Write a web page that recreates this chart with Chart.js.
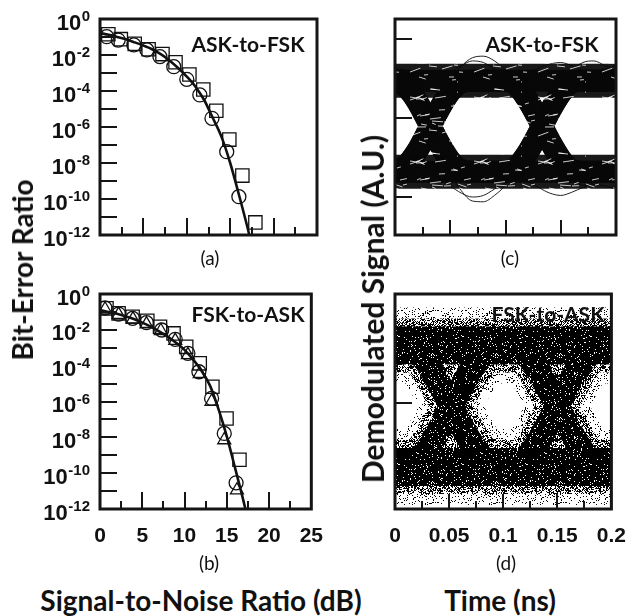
<!DOCTYPE html>
<html><head><meta charset="utf-8">
<script src="https://cdn.jsdelivr.net/npm/chart.js@4.4.1/dist/chart.umd.min.js"></script>
<style>
html,body{margin:0;padding:0;background:#fff}
#wrap{position:relative;width:633px;height:616px;overflow:hidden;background:#fff}
canvas{position:absolute}
.t{position:absolute;white-space:nowrap;color:#111;line-height:1;transform:translate(-50%,-50%)}
.ttl{font:700 28px Lato}
.lab{font:700 21px Lato}
.pl{font:400 19px Lato}
.rot{transform:translate(-50%,-50%) rotate(-90deg)}
</style></head><body><div id="wrap">
<canvas id="ca" width="330" height="250" style="left:0;top:0"></canvas>
<canvas id="cb" width="330" height="280" style="left:0;top:270px"></canvas>
<canvas id="cc" width="303" height="250" style="left:330px;top:0"></canvas>
<canvas id="cd" width="303" height="280" style="left:330px;top:270px"></canvas>
<div class="t ttl rot" style="left:22px;top:270px">Bit-Error Ratio</div>
<div class="t ttl rot" style="left:372px;top:309px;font-size:30px">Demodulated Signal (A.U.)</div>
<div class="t ttl" style="left:201px;top:600px">Signal-to-Noise Ratio (dB)</div>
<div class="t ttl" style="left:500px;top:600px">Time (ns)</div>
<div class="t pl" style="left:210px;top:257px">(a)</div>
<div class="t pl" style="left:209px;top:562px">(b)</div>
<div class="t pl" style="left:510px;top:257px">(c)</div>
<div class="t pl" style="left:506px;top:562px">(d)</div>
<div class="t lab" style="left:248px;top:43px">ASK-to-FSK</div>
<div class="t lab" style="left:248px;top:313px">FSK-to-ASK</div>
<div class="t lab" style="left:542px;top:43px">ASK-to-FSK</div>
<div class="t lab" style="left:548px;top:313px">FSK-to-ASK</div>
</div>
<script>
// ---------- BER panels (log10 of bit-error ratio) ----------
const fitSnrA = [0,1,2,3,4,5,6,7,8,9,10,11,12,13,14,15,16,17,17.3];
const fitExpA = [-0.78,-0.88,-1.0,-1.13,-1.3,-1.48,-1.68,-1.95,-2.3,-2.72,-3.2,-3.76,-4.5,-5.5,-6.55,-8.0,-9.75,-11.6,-12.2];
const sqSnrA  = [0.96,2.4,4.0,5.6,7.2,8.7,10.3,11.9,13.4,14.9,16.4,17.9];
const sqExpA  = [-0.85,-1.12,-1.38,-1.68,-1.95,-2.4,-3.08,-3.92,-5.1,-6.7,-8.7,-11.3];
const ciSnrA  = [0.77,2.1,3.9,5.4,6.9,8.5,10.0,11.5,12.9,14.6,16.0];
const ciExpA  = [-0.98,-1.17,-1.44,-1.72,-2.09,-2.65,-3.35,-4.22,-5.52,-7.37,-9.87];

const fitSnrB = [0,1,2,3,4,5,6,7,8,9,10,11,12,13,14,15,16,17,17.3];
const fitExpB = [-0.9,-1.0,-1.1,-1.24,-1.4,-1.6,-1.82,-2.08,-2.38,-2.72,-3.12,-3.65,-4.28,-5.1,-6.4,-7.95,-9.75,-11.6,-12.2];
const sqSnrB  = [0.77,2.2,3.86,5.6,7.1,8.7,10.2,11.8,13.3,14.97,16.5];
const sqExpB  = [-0.8,-1.08,-1.27,-1.49,-1.83,-2.2,-2.95,-3.87,-5.18,-6.95,-9.25];
const ciSnrB  = [0.58,2.2,3.86,5.5,7.3,8.9,10.4,11.7,13.2,14.7,16.1];
const ciExpB  = [-0.78,-1.12,-1.36,-1.6,-2.01,-2.53,-3.31,-4.34,-5.83,-7.78,-10.54];
const trSnrB  = [0.6,2.2,3.9,5.5,7.2,8.9,10.4,11.8,13.2,14.7,16.2];
const trExpB  = [-0.85,-1.15,-1.4,-1.68,-2.05,-2.6,-3.4,-4.45,-6.0,-8.15,-10.95];

const berTickExps   = [0,-2,-4,-6,-8,-10,-12];
const berTickBase   = '10';
const berTickSup    = ['0','-2','-4','-6','-8','-10','-12'];
const berMarkExps   = [-1,-2,-3,-4,-5,-6,-7,-8,-9,-10,-11];
const snrTicks      = [0,5,10,15,20,25];
const snrMajor      = [5,10,15,20];
const snrMinor      = [2.5,7.5,12.5,17.5,22.5];

// ---------- Eye diagrams ----------
const tEye = [0,0.01,0.02,0.03,0.04,0.05,0.06,0.07,0.08,0.09,0.1,0.11,0.12,0.13,0.14,0.15,0.16,0.17,0.18,0.19,0.2];
// (c) ASK-to-FSK traces (bit patterns)
const c000 = [-0.68,-0.68,-0.68,-0.68,-0.68,-0.68,-0.68,-0.68,-0.68,-0.68,-0.68,-0.68,-0.68,-0.68,-0.68,-0.68,-0.68,-0.68,-0.68,-0.68,-0.68];
const c001 = [-0.68,-0.68,-0.68,-0.68,-0.68,-0.68,-0.68,-0.68,-0.68,-0.68,-0.68,-0.62,-0.44,-0.19,0.08,0.31,0.45,0.47,0.47,0.47,0.47];
const c010 = [-0.68,-0.6,-0.42,-0.16,0.11,0.33,0.45,0.47,0.47,0.47,0.47,0.41,0.23,-0.02,-0.29,-0.52,-0.66,-0.68,-0.68,-0.68,-0.68];
const c011 = [-0.68,-0.6,-0.42,-0.16,0.11,0.33,0.45,0.47,0.47,0.47,0.47,0.47,0.47,0.47,0.47,0.47,0.47,0.47,0.47,0.47,0.47];
const c100 = [0.47,0.39,0.21,-0.05,-0.32,-0.54,-0.66,-0.68,-0.68,-0.68,-0.68,-0.68,-0.68,-0.68,-0.68,-0.68,-0.68,-0.68,-0.68,-0.68,-0.68];
const c101 = [0.47,0.39,0.21,-0.05,-0.32,-0.54,-0.66,-0.68,-0.68,-0.68,-0.68,-0.62,-0.44,-0.19,0.08,0.31,0.45,0.47,0.47,0.47,0.47];
const c110 = [0.47,0.47,0.47,0.47,0.47,0.47,0.47,0.47,0.47,0.47,0.47,0.41,0.23,-0.02,-0.29,-0.52,-0.66,-0.68,-0.68,-0.68,-0.68];
const c111 = [0.47,0.47,0.47,0.47,0.47,0.47,0.47,0.47,0.47,0.47,0.47,0.47,0.47,0.47,0.47,0.47,0.47,0.47,0.47,0.47,0.47];
const cThinA = [-0.75,-0.68,-0.5,-0.2,0.15,0.45,0.65,0.76,0.78,0.72,0.6,0.45,0.25,0.0,-0.3,-0.55,-0.75,-0.85,-0.82,-0.74,-0.7];
const cThinB = [0.6,0.5,0.3,0.0,-0.35,-0.7,-0.92,-1.05,-1.06,-0.98,-0.85,-0.65,-0.42,-0.15,0.15,0.42,0.6,0.7,0.72,0.66,0.6];
const cThinC = [0.62,0.6,0.52,0.46,0.5,0.58,0.66,0.72,0.7,0.62,0.55,0.52,0.56,0.63,0.68,0.7,0.66,0.6,0.58,0.62,0.66];
const cThinD = [-0.85,-0.82,-0.75,-0.7,-0.76,-0.86,-0.95,-1.0,-0.98,-0.9,-0.82,-0.78,-0.8,-0.88,-0.95,-0.98,-0.94,-0.88,-0.84,-0.86,-0.9];
const cThinE = [0.55,0.45,0.25,-0.02,-0.28,-0.48,-0.6,-0.64,-0.6,-0.56,-0.55,-0.5,-0.36,-0.12,0.14,0.36,0.5,0.56,0.58,0.55,0.52];
const cThinF = [-0.58,-0.52,-0.36,-0.1,0.16,0.36,0.42,0.4,0.37,0.38,0.4,0.36,0.2,-0.05,-0.32,-0.55,-0.7,-0.76,-0.74,-0.7,-0.66];
// (d) FSK-to-ASK traces (bit patterns)
const d000 = [-0.81,-0.81,-0.81,-0.81,-0.81,-0.81,-0.81,-0.81,-0.81,-0.81,-0.81,-0.81,-0.81,-0.81,-0.81,-0.81,-0.81,-0.81,-0.81,-0.81,-0.81];
const d001 = [-0.81,-0.81,-0.81,-0.81,-0.81,-0.81,-0.81,-0.81,-0.81,-0.81,-0.81,-0.8,-0.71,-0.54,-0.3,-0.04,0.22,0.46,0.63,0.72,0.73];
const d010 = [-0.81,-0.8,-0.73,-0.58,-0.35,-0.09,0.17,0.41,0.6,0.71,0.73,0.72,0.63,0.46,0.22,-0.04,-0.3,-0.54,-0.71,-0.8,-0.81];
const d011 = [-0.81,-0.8,-0.73,-0.58,-0.35,-0.09,0.17,0.41,0.6,0.71,0.73,0.73,0.73,0.73,0.73,0.73,0.73,0.73,0.73,0.73,0.73];
const d100 = [0.73,0.72,0.65,0.5,0.27,0.01,-0.25,-0.49,-0.68,-0.79,-0.81,-0.81,-0.81,-0.81,-0.81,-0.81,-0.81,-0.81,-0.81,-0.81,-0.81];
const d101 = [0.73,0.72,0.65,0.5,0.27,0.01,-0.25,-0.49,-0.68,-0.79,-0.81,-0.8,-0.71,-0.54,-0.3,-0.04,0.22,0.46,0.63,0.72,0.73];
const d110 = [0.73,0.73,0.73,0.73,0.73,0.73,0.73,0.73,0.73,0.73,0.73,0.72,0.63,0.46,0.22,-0.04,-0.3,-0.54,-0.71,-0.8,-0.81];
const d111 = [0.73,0.73,0.73,0.73,0.73,0.73,0.73,0.73,0.73,0.73,0.73,0.73,0.73,0.73,0.73,0.73,0.73,0.73,0.73,0.73,0.73];

const timeTicks      = [0,0.05,0.1,0.15,0.2];
const timeTickLabels = ['0','0.05','0.1','0.15','0.2'];
const timeMajor      = [0.05,0.1,0.15];
const timeMinor      = [0.025,0.075,0.125,0.175];
const sigMarksC      = [-1,0,1];
const sigMarksD      = [0];

// ---------- plugin: frame + inward tick marks + power-of-ten labels ----------
const frameTicks = {
  id:'frameTicks',
  afterDatasetsDraw(chart, args, o){
    const {ctx, chartArea:a, scales:{x,y}} = chart;
    ctx.save();
    ctx.strokeStyle='#151515'; ctx.lineWidth=2; ctx.lineCap='butt';
    ctx.beginPath();
    (o.yMarks||[]).forEach(v=>{const py=Math.round(y.getPixelForValue(v)); ctx.moveTo(a.left,py); ctx.lineTo(a.left+o.yLen,py);});
    (o.xMajor||[]).forEach(v=>{const px=Math.round(x.getPixelForValue(v)); ctx.moveTo(px,a.bottom); ctx.lineTo(px,a.bottom-o.majLen);});
    (o.xMinor||[]).forEach(v=>{const px=Math.round(x.getPixelForValue(v)); ctx.moveTo(px,a.bottom); ctx.lineTo(px,a.bottom-o.minLen);});
    ctx.stroke();
    ctx.lineWidth=3;
    ctx.strokeRect(a.left,a.top,a.right-a.left,a.bottom-a.top);
    if (o.powLabels) {
      ctx.fillStyle='#111'; ctx.textBaseline='alphabetic'; ctx.textAlign='right';
      const xr = a.left - 10;
      berTickExps.forEach((e,i)=>{
        const py = y.getPixelForValue(Math.pow(10,e));
        ctx.font = 'bold 15px "Liberation Sans"';
        const sup = berTickSup[i];
        const w = ctx.measureText(sup).width;
        ctx.fillText(sup, xr, py + 2);
        ctx.font = 'bold 22px "Liberation Sans"';
        ctx.fillText(berTickBase, xr - w - 0.5, py + 10.5);
      });
    }
    ctx.restore();
  }
};
Chart.register(frameTicks);

const pts = (xs, es) => xs.map((x,i)=>({x, y:Math.pow(10, es[i])}));
const fitDs = (xs, es) => ({data:pts(xs,es), borderColor:'#111', borderWidth:2.6, pointRadius:0, cubicInterpolationMode:'monotone', fill:false, order:0});
const mkDs = (xs, es, style, r) => ({data:pts(xs,es), showLine:false, pointStyle:style, pointRadius:r, pointBorderWidth:1.3, pointBorderColor:'#111', pointBackgroundColor:'rgba(0,0,0,0)', borderColor:'#111', backgroundColor:'rgba(0,0,0,0)', order:1});

const tickFont = {family:'Liberation Sans', weight:'bold', size:21};

function berOptions(showX, padTop){
  return {
    responsive:false, animation:false, events:[], devicePixelRatio:1,
    layout:{padding:{top:padTop, right:13, bottom: showX?0:15, left:0}},
    plugins:{legend:{display:false}, tooltip:{enabled:false},
      frameTicks:{powLabels:true, yMarks:berMarkExps.map(e=>Math.pow(10,e)), yLen:17, xMajor:snrMajor, xMinor:snrMinor, majLen:17, minLen:8}},
    scales:{
      x:{type:'linear', min:0, max:25, display:showX, grid:{display:false}, border:{display:false},
         afterBuildTicks:s=>{s.ticks=snrTicks.map(v=>({value:v}));},
         afterFit:s=>{s.height = showX ? 41 : 0;},
         ticks:{padding:7, color:'#111', font:tickFont, autoSkip:false, maxRotation:0, callback:(v)=>String(v)}},
      y:{type:'logarithmic', min:1e-12, max:1, grid:{display:false}, border:{display:false},
         afterBuildTicks:s=>{s.ticks=berTickExps.map(e=>({value:Math.pow(10,e)}));},
         afterFit:s=>{s.width=100;},
         ticks:{display:false}}
    }
  };
}

new Chart(document.getElementById('ca'), {
  type:'line',
  data:{datasets:[fitDs(fitSnrA,fitExpA), mkDs(sqSnrA,sqExpA,'rect',9.4), mkDs(ciSnrA,ciExpA,'circle',7)]},
  options:berOptions(false,19)
});
new Chart(document.getElementById('cb'), {
  type:'line',
  data:{datasets:[fitDs(fitSnrB,fitExpB), mkDs(sqSnrB,sqExpB,'rect',9.4), mkDs(ciSnrB,ciExpB,'circle',7), mkDs(trSnrB,trExpB,'triangle',7.5)]},
  options:berOptions(true,24)
});

// ---------- eye diagrams ----------
function eyeDs(vals, width, color){
  return {data:tEye.map((t,i)=>({x:t,y:vals[i]})), borderColor:color, borderWidth:width, pointRadius:0,
          cubicInterpolationMode:'monotone', fill:false, clip:0, borderCapStyle:'butt', borderJoinStyle:'round'};
}
function hash(a,b,s){
  let h=Math.imul(a+s*131,374761393)^Math.imul(b+s*71,668265263);
  h=Math.imul(h^(h>>>13),1274126177); return (h^(h>>>16))>>>0;
}
function stipple(density, seed){
  const n=64, c=document.createElement('canvas'); c.width=c.height=n;
  const g=c.getContext('2d'); const img=g.createImageData(n,n);
  for(let yy=0;yy<n;yy++)for(let xx=0;xx<n;xx++){
    if((hash(xx,yy,seed)%1000)/1000<density){img.data[(yy*n+xx)*4+3]=255;}
  }
  g.putImageData(img,0,0);
  return g.createPattern(c,'repeat');
}
// dense mesh texture: near-black with short light streaks (style only)
function mesh(seed, count){
  const n=64, c=document.createElement('canvas'); c.width=c.height=n;
  const g=c.getContext('2d');
  g.fillStyle='rgba(8,8,8,0.93)'; g.fillRect(0,0,n,n);
  g.strokeStyle='rgba(255,255,255,0.85)'; g.lineWidth=0.9;
  for(let k=0;k<count;k++){
    const h=hash(k,k*7+3,seed);
    const x=h%n, y=(h>>>6)%n, len=4+((h>>>12)%8), ang=(((h>>>16)%100)/100-0.5)*0.9;
    g.beginPath(); g.moveTo(x,y); g.lineTo(x+len*Math.cos(ang), y+len*Math.sin(ang)); g.stroke();
  }
  return g.createPattern(c,'repeat');
}

const cTex = mesh(5,42);
const cDatasets = [
  eyeDs(c000,34,cTex), eyeDs(c111,34,cTex),
  eyeDs(c001,22,cTex), eyeDs(c010,22,cTex), eyeDs(c011,22,cTex),
  eyeDs(c100,22,cTex), eyeDs(c101,22,cTex), eyeDs(c110,22,cTex),
  eyeDs(cThinA,1,'#222'), eyeDs(cThinB,1,'#222'), eyeDs(cThinC,1,'#222'), eyeDs(cThinD,1,'#222'),
  eyeDs(cThinE,1,'#333'), eyeDs(cThinF,1,'#333')
];
function eyeOptions(showX, padTop, ymin, ymax, marks){
  return {
    responsive:false, animation:false, events:[], devicePixelRatio:1,
    layout:{padding:{top:padTop, right:17, bottom: showX?0:15, left:65}},
    plugins:{legend:{display:false}, tooltip:{enabled:false},
      frameTicks:{yMarks:marks, yLen:17, xMajor:timeMajor, xMinor:timeMinor, majLen:15, minLen:8}},
    scales:{
      x:{type:'linear', min:0, max:0.2, display:showX, grid:{display:false}, border:{display:false},
         afterBuildTicks:s=>{s.ticks=timeTicks.map(v=>({value:v}));},
         afterFit:s=>{s.height = showX ? 41 : 0;},
         ticks:{padding:7, color:'#111', font:tickFont, autoSkip:false, maxRotation:0, callback:(v,i)=>timeTickLabels[i]}},
      y:{type:'linear', min:ymin, max:ymax, display:false, afterFit:s=>{s.width=0;}}
    }
  };
}
new Chart(document.getElementById('cc'), {type:'line', data:{datasets:cDatasets}, options:eyeOptions(false,19,-1.48,1.25,sigMarksC)});

const halo = stipple(0.12,1), midp = stipple(0.45,2), core = stipple(0.86,3);
const dRails = [d000,d111], dTrans = [d001,d010,d011,d100,d101,d110];
const dDatasets = [];
dRails.forEach(v=>{dDatasets.push(eyeDs(v,76,halo), eyeDs(v,54,midp), eyeDs(v,38,core));});
dTrans.forEach(v=>{dDatasets.push(eyeDs(v,58,halo), eyeDs(v,40,midp), eyeDs(v,24,core));});
new Chart(document.getElementById('cd'), {type:'line', data:{datasets:dDatasets}, options:eyeOptions(true,24,-1.34,1.38,sigMarksD)});
</script>
</body></html>
